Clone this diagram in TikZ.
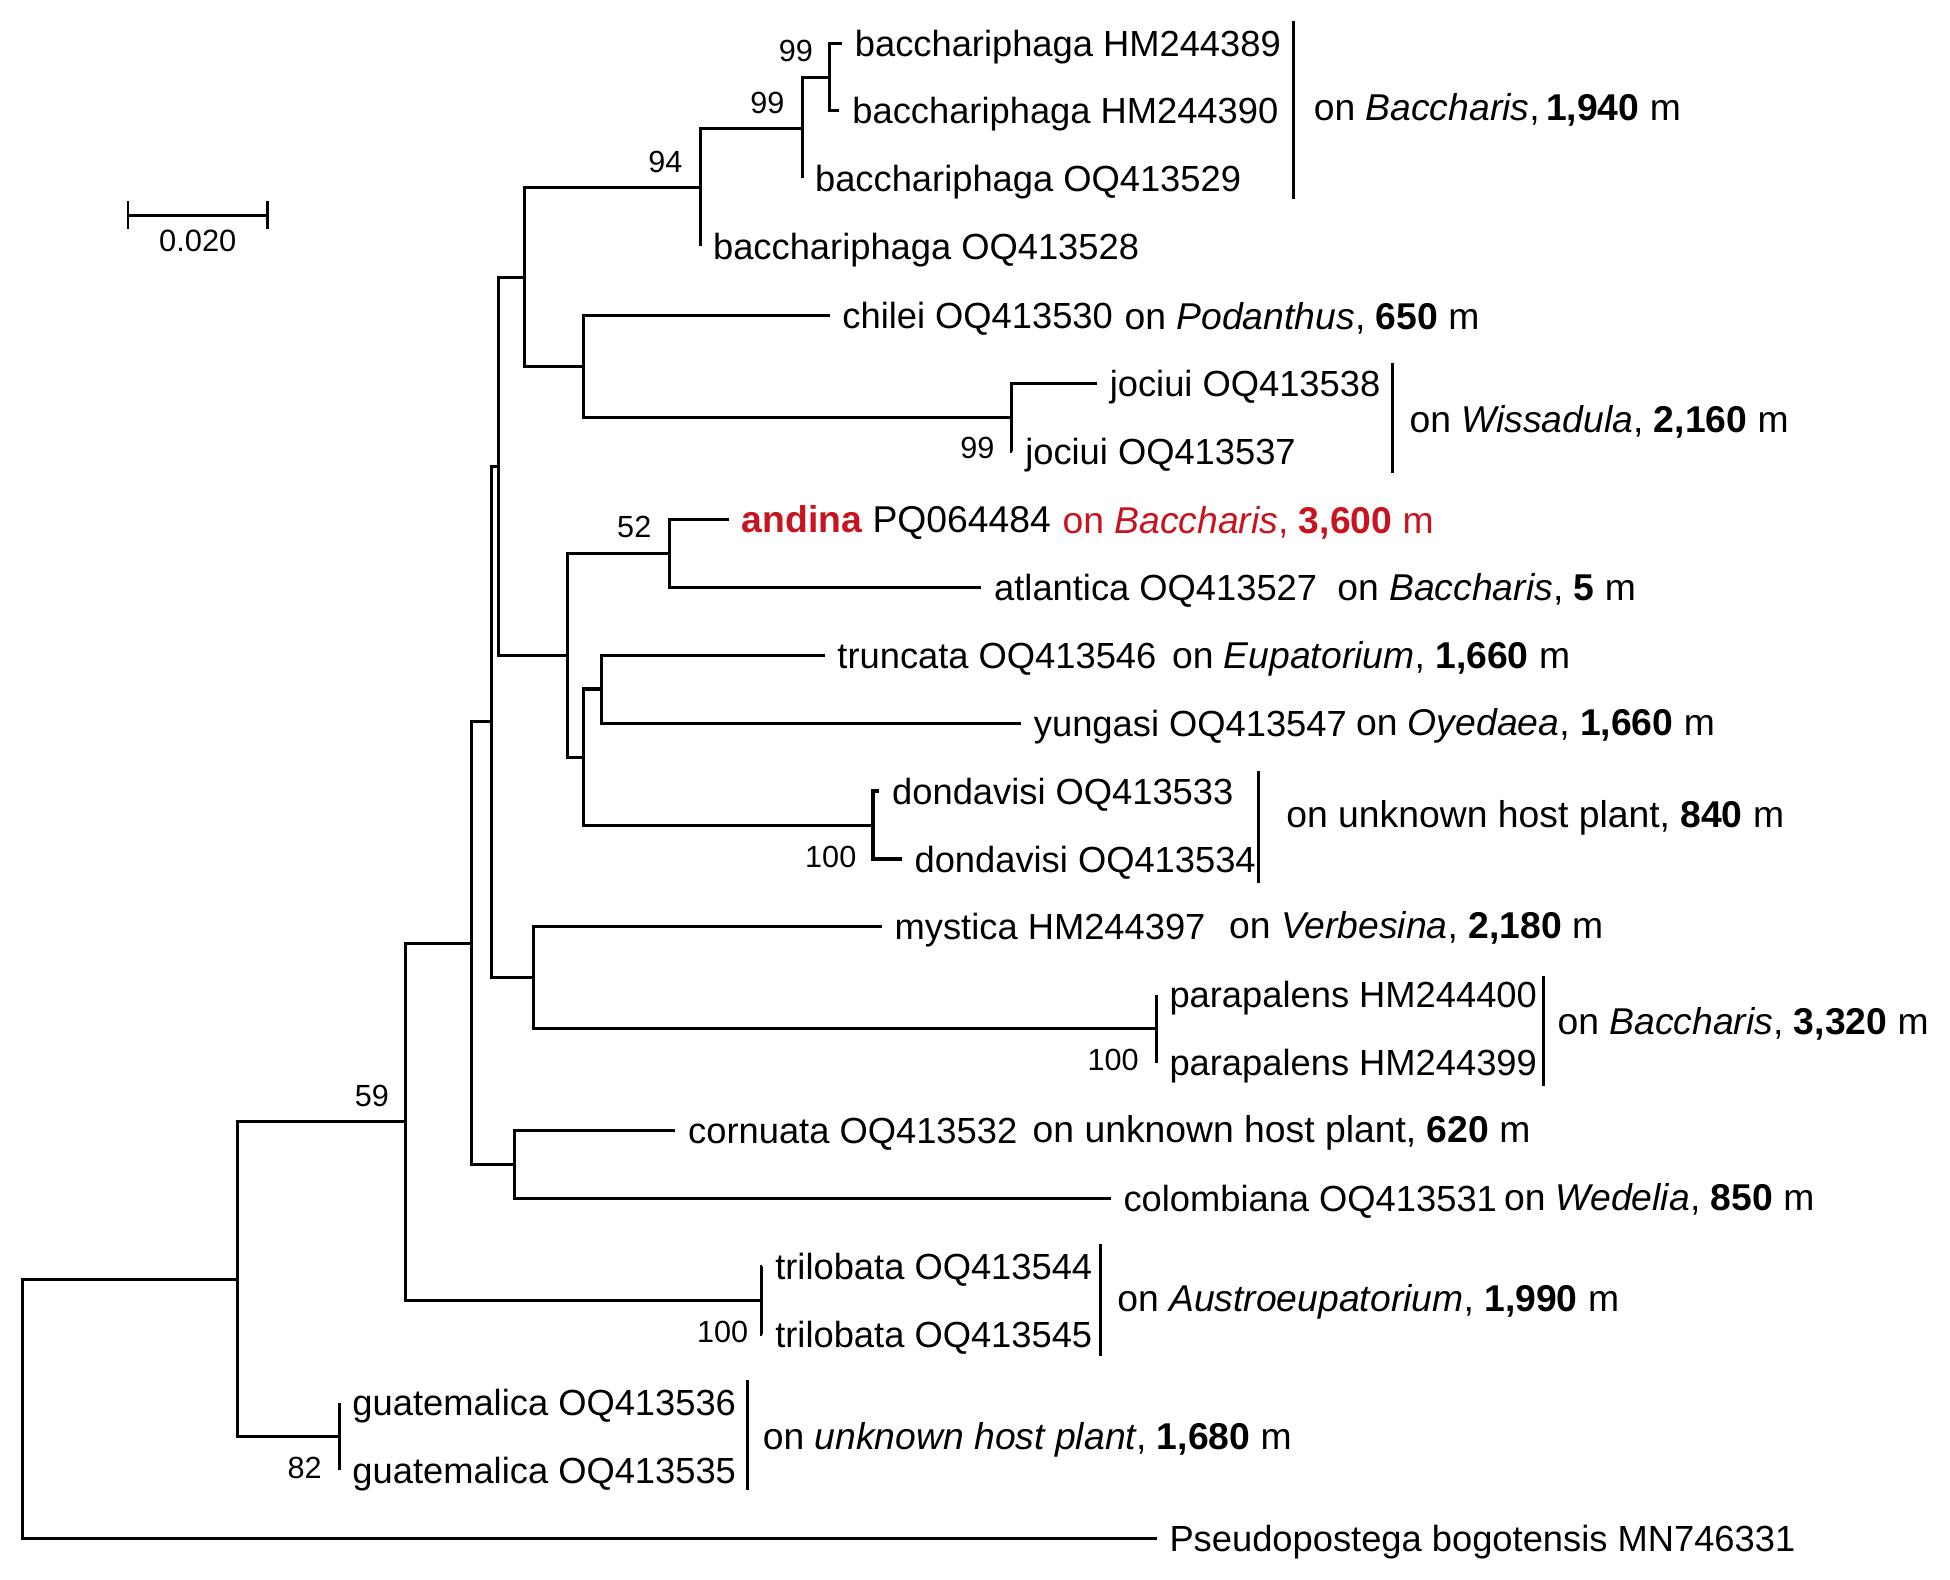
\documentclass[tikz,border=0pt]{standalone}
\usepackage{fontspec}
\setmainfont{Liberation Sans}
\definecolor{andinared}{RGB}{200,20,30}
\begin{document}
\begin{tikzpicture}[x=0.5pt,y=-0.5pt,
  tree/.style={line width=1.25pt},
  bar/.style={line width=1.3pt},
  leaf/.style={anchor=west, inner xsep=5pt, inner ysep=0pt, text height=10.5pt, text depth=0pt, font=\fontsize{14.6}{16}\selectfont},
  host/.style={anchor=west, inner sep=0pt, text height=10.7pt, text depth=0pt, font=\fontsize{15}{18}\selectfont},
  boot/.style={inner sep=0pt, font=\fontsize{12.3}{14}\selectfont}]
\useasboundingbox[fill=white] (0,0) rectangle (1568,1270);
\coordinate (root) at (18,1133);
\coordinate (nIn) at (191,1028.5);
\coordinate (n82) at (273,1155);
\coordinate (n59) at (326,902);
\coordinate (nTril) at (612,1046);
\coordinate (nA) at (379,758.5);
\coordinate (nCC) at (414,936.5);
\coordinate (nB) at (395,580.5);
\coordinate (nMP) at (429,786);
\coordinate (nPara) at (930,827);
\coordinate (nC) at (401,375);
\coordinate (nAnd) at (456,527);
\coordinate (n52) at (538,445);
\coordinate (nTYD) at (469,609);
\coordinate (nTY) at (484,554);
\coordinate (nDon) at (702,663.5);
\coordinate (nD) at (422,223);
\coordinate (nChJo) at (469,295);
\coordinate (nJoc) at (813,335.5);
\coordinate (n94) at (563,151);
\coordinate (n99b) at (645,103);
\coordinate (n99a) at (667,62.5);
\node[leaf] (bac389) at (677,35) {bacchariphaga HM244389};
\node[leaf] (bac390) at (675,89) {bacchariphaga HM244390};
\node[leaf] (bac529) at (645,143.5) {bacchariphaga OQ413529};
\node[leaf] (bac528) at (563,198) {bacchariphaga OQ413528};
\node[leaf] (chilei) at (667,253.6) {chilei OQ413530};
\node[leaf] (joc538) at (882,308.2) {jociui OQ413538};
\node[leaf] (joc537) at (814,362.8) {jociui OQ413537};
\node[leaf, font=\fontsize{15}{18}\selectfont] (andina) at (586,417.5) {\textcolor{andinared}{\textbf{andina}} PQ064484};
\node[leaf] (atlantica) at (789,472.1) {atlantica OQ413527};
\node[leaf] (truncata) at (663,526.8) {truncata OQ413546};
\node[leaf] (yungasi) at (821,581.4) {yungasi OQ413547};
\node[leaf] (don533) at (707,636) {dondavisi OQ413533};
\node[leaf] (don534) at (725,690.7) {dondavisi OQ413534};
\node[leaf] (mystica) at (709,745.3) {mystica HM244397};
\node[leaf] (para400) at (930,800) {parapalens HM244400};
\node[leaf] (para399) at (930,854.6) {parapalens HM244399};
\node[leaf] (cornuata) at (543,909.2) {cornuata OQ413532};
\node[leaf] (colombiana) at (893,963.9) {colombiana OQ413531};
\node[leaf] (tril544) at (613,1018.5) {trilobata OQ413544};
\node[leaf] (tril545) at (613,1073.2) {trilobata OQ413545};
\node[leaf] (guat536) at (273,1127.8) {guatemalica OQ413536};
\node[leaf] (guat535) at (273,1182.4) {guatemalica OQ413535};
\node[leaf] (pseudo) at (930,1237.1) {Pseudopostega bogotensis MN746331};
\draw[tree] (root) |- (nIn);
\draw[tree] (root) |- (pseudo.west);
\draw[tree] (nIn) |- (n59);
\draw[tree] (nIn) |- (n82);
\draw[tree] (n82) |- (guat536.west);
\draw[tree] (n82) |- (guat535.west);
\draw[tree] (n59) |- (nA);
\draw[tree] (n59) |- (nTril);
\draw[tree] (nTril) |- (tril544.west);
\draw[tree] (nTril) |- (tril545.west);
\draw[tree] (nA) |- (nB);
\draw[tree] (nA) |- (nCC);
\draw[tree] (nCC) |- (cornuata.west);
\draw[tree] (nCC) |- (colombiana.west);
\draw[tree] (nB) |- (nC);
\draw[tree] (nB) |- (nMP);
\draw[tree] (nMP) |- (mystica.west);
\draw[tree] (nMP) |- (nPara);
\draw[tree] (nPara) |- (para400.west);
\draw[tree] (nPara) |- (para399.west);
\draw[tree] (nC) |- (nD);
\draw[tree] (nC) |- (nAnd);
\draw[tree] (nAnd) |- (n52);
\draw[tree] (nAnd) |- (nTYD);
\draw[tree] (n52) |- (andina.west);
\draw[tree] (n52) |- (atlantica.west);
\draw[tree] (nTYD) |- (nTY);
\draw[tree] (nTYD) |- (nDon);
\draw[tree] (nTY) |- (truncata.west);
\draw[tree] (nTY) |- (yungasi.west);
\draw[tree] (nDon) |- (don533.west);
\draw[tree] (nDon) |- (don534.west);
\draw[tree] (nD) |- (n94);
\draw[tree] (nD) |- (nChJo);
\draw[tree] (nChJo) |- (chilei.west);
\draw[tree] (nChJo) |- (nJoc);
\draw[tree] (nJoc) |- (joc538.west);
\draw[tree] (nJoc) |- (joc537.west);
\draw[tree] (n94) |- (n99b);
\draw[tree] (n94) |- (bac528.west);
\draw[tree] (n99b) |- (n99a);
\draw[tree] (n99b) |- (bac529.west);
\draw[tree] (n99a) |- (bac389.west);
\draw[tree] (n99a) |- (bac390.west);
\node[boot] (b99a) at (640,41) {99};
\node[boot] (b99b) at (617,83) {99};
\node[boot] (b94) at (535,130) {94};
\node[boot] (b52) at (510,424) {52};
\node[boot] (b99c) at (786,360) {99};
\node[boot] (b100a) at (668,689) {100};
\node[boot] (b100b) at (895,852) {100};
\node[boot] (b59) at (299,881) {59};
\node[boot] (b100c) at (581,1071) {100};
\node[boot] (b82) at (245,1180) {82};
\draw[bar] (1040,17) -- (1040,160);
\draw[bar] (1120,292) -- (1120,380);
\draw[bar] (1012,620) -- (1012,710);
\draw[bar] (1241,785) -- (1241,873);
\draw[bar] (885,1000) -- (885,1090);
\draw[bar] (601,1110) -- (601,1198);
\node[host] (hBac1) at (1056,86) {on \textit{Baccharis},\,\textbf{1,940} m};
\node[host] (hPod) at (904,254) {on \textit{Podanthus}, \textbf{650} m};
\node[host] (hWis) at (1133,337) {on \textit{Wissadula}, \textbf{2,160} m};
\node[host, text=andinared] (hAnd) at (854,418) {on \textit{Baccharis}, \textbf{3,600} m};
\node[host] (hAtl) at (1075,472) {on \textit{Baccharis}, \textbf{5} m};
\node[host] (hEup) at (942,527) {on \textit{Eupatorium}, \textbf{1,660} m};
\node[host] (hOye) at (1090,581) {on \textit{Oyedaea}, \textbf{1,660} m};
\node[host] (hDon) at (1034,655) {on unknown host plant, \textbf{840} m};
\node[host] (hVer) at (988,744) {on \textit{Verbesina}, \textbf{2,180} m};
\node[host] (hBac2) at (1252,821) {on \textit{Baccharis}, \textbf{3,320} m};
\node[host] (hCor) at (830,908) {on unknown host plant, \textbf{620} m};
\node[host] (hWed) at (1209,963) {on \textit{Wedelia}, \textbf{850} m};
\node[host] (hAus) at (898,1044) {on \textit{Austroeupatorium}, \textbf{1,990} m};
\node[host] (hGua) at (613,1155) {on \textit{unknown host plant}, \textbf{1,680} m};
\draw[line width=1.1pt] (103,162) -- (103,184) (103,173) -- (215,173) (215,162) -- (215,184);
\node[boot, font=\fontsize{12.4}{14}\selectfont] (scale) at (159,194) {0.020};
\end{tikzpicture}
\end{document}
